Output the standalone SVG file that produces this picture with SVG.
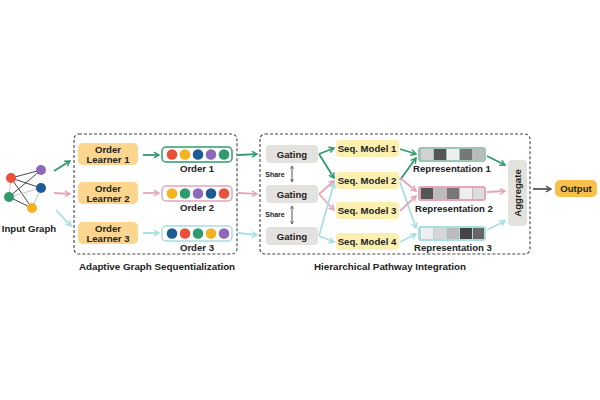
<svg xmlns="http://www.w3.org/2000/svg" width="600" height="400" viewBox="0 0 600 400">
<style>
text{font-family:"Liberation Sans",Arial,sans-serif;font-weight:bold;fill:#222;text-anchor:middle}
.t{font-size:9.6px}.s{font-size:7px}.cap{font-size:9.8px}
.frame{fill:none;stroke:#444;stroke-width:1.1;stroke-dasharray:3 2}
.ol{fill:#fcd68f}.sq{fill:#fbf0b0}.gt{fill:#e4e2de}
.g{stroke:#2e9a6e;fill:none;stroke-width:1.8;marker-end:url(#ag)}
.p{stroke:#e3a6bb;fill:none;stroke-width:1.8;marker-end:url(#ap)}
.c{stroke:#a9dde1;fill:none;stroke-width:1.8;marker-end:url(#ac)}
.e{stroke:#333;stroke-width:0.9}.e2{stroke:#bbb;stroke-width:0.9}
</style>
<defs>
<marker id="ag" viewBox="0 0 10 10" refX="8" refY="5" markerWidth="4" markerHeight="4" orient="auto"><path d="M1,1L8,5L1,9" fill="none" stroke="#2e9a6e" stroke-width="2"/></marker>
<marker id="ap" viewBox="0 0 10 10" refX="8" refY="5" markerWidth="4" markerHeight="4" orient="auto"><path d="M1,1L8,5L1,9" fill="none" stroke="#e3a6bb" stroke-width="2"/></marker>
<marker id="ac" viewBox="0 0 10 10" refX="8" refY="5" markerWidth="4" markerHeight="4" orient="auto"><path d="M1,1L8,5L1,9" fill="none" stroke="#a9dde1" stroke-width="2"/></marker>
<marker id="ak" viewBox="0 0 10 10" refX="8" refY="5" markerWidth="4" markerHeight="4" orient="auto-start-reverse"><path d="M1,1L8,5L1,9" fill="none" stroke="#555" stroke-width="2"/></marker>
</defs>
<rect width="600" height="400" fill="#fff"/>
<g id="input-graph">
<line class="e" x1="11" y1="178" x2="41" y2="170"/><line class="e" x1="11" y1="178" x2="41" y2="188"/><line class="e" x1="11" y1="178" x2="32" y2="208"/>
<line class="e" x1="9" y1="197" x2="41" y2="170"/><line class="e2" x1="9" y1="197" x2="41" y2="188"/><line class="e" x1="9" y1="197" x2="32" y2="208"/>
<line class="e2" x1="11" y1="178" x2="9" y2="197"/><line class="e2" x1="41" y1="188" x2="32" y2="208"/>
<circle cx="11" cy="178" r="5" fill="#e9503c"/><circle cx="41" cy="170" r="5" fill="#8e68b8"/><circle cx="41" cy="188" r="5" fill="#1e5b93"/><circle cx="9" cy="197" r="5" fill="#2e9a6e"/><circle cx="32" cy="208" r="5" fill="#f4b120"/>
<text class="t" x="29" y="232">Input Graph</text>
</g>
<g id="sequentialization">
<rect class="frame" x="74" y="134" width="163" height="120" rx="5"/>
<text class="cap" x="157" y="270">Adaptive Graph Sequentialization</text>
</g>
<g id="learner1"><rect class="ol" x="78" y="143" width="60" height="22" rx="5"/><text class="t" x="108" y="152.5">Order</text><text class="t" x="108" y="162.5">Learner 1</text></g>
<g id="learner2"><rect class="ol" x="78" y="182" width="60" height="22" rx="5"/><text class="t" x="108" y="191.5">Order</text><text class="t" x="108" y="201.5">Learner 2</text></g>
<g id="learner3"><rect class="ol" x="78" y="222" width="60" height="22" rx="5"/><text class="t" x="108" y="231.5">Order</text><text class="t" x="108" y="241.5">Learner 3</text></g>
<g id="order1"><rect x="162" y="147" width="70" height="15" rx="4" fill="#fff" stroke="#2e9a6e" stroke-width="1.5"/>
<circle cx="172" cy="154.5" r="5.3" fill="#e9503c"/><circle cx="185" cy="154.5" r="5.3" fill="#f4b120"/><circle cx="198" cy="154.5" r="5.3" fill="#1e5b93"/><circle cx="211" cy="154.5" r="5.3" fill="#8e68b8"/><circle cx="224" cy="154.5" r="5.3" fill="#2e9a6e"/>
<text class="t" x="197" y="172">Order 1</text></g>
<g id="order2"><rect x="162" y="186" width="70" height="15" rx="4" fill="#fff" stroke="#e3a6bb" stroke-width="1.5"/>
<circle cx="172" cy="193.5" r="5.3" fill="#f4b120"/><circle cx="185" cy="193.5" r="5.3" fill="#2e9a6e"/><circle cx="198" cy="193.5" r="5.3" fill="#8e68b8"/><circle cx="211" cy="193.5" r="5.3" fill="#1e5b93"/><circle cx="224" cy="193.5" r="5.3" fill="#e9503c"/>
<text class="t" x="197" y="211">Order 2</text></g>
<g id="order3"><rect x="162" y="226" width="70" height="15" rx="4" fill="#fff" stroke="#a9dde1" stroke-width="1.5"/>
<circle cx="172" cy="233.5" r="5.3" fill="#1e5b93"/><circle cx="185" cy="233.5" r="5.3" fill="#e9503c"/><circle cx="198" cy="233.5" r="5.3" fill="#2e9a6e"/><circle cx="211" cy="233.5" r="5.3" fill="#f4b120"/><circle cx="224" cy="233.5" r="5.3" fill="#8e68b8"/>
<text class="t" x="197" y="251">Order 3</text></g>
<g id="integration">
<rect class="frame" x="260" y="134" width="270" height="120" rx="5"/>
<text class="cap" x="390" y="270">Hierarchical Pathway Integration</text>
<text class="s" x="275" y="177">Share</text><text class="s" x="275" y="217">Share</text>
</g>
<g id="gating1"><rect class="gt" x="266" y="145" width="52" height="18" rx="4"/><text class="t" x="292" y="157.5">Gating</text></g>
<g id="gating2"><rect class="gt" x="266" y="185" width="52" height="18" rx="4"/><text class="t" x="292" y="197.5">Gating</text></g>
<g id="gating3"><rect class="gt" x="266" y="227" width="52" height="18" rx="4"/><text class="t" x="292" y="239.5">Gating</text></g>
<g id="seq1"><rect class="sq" x="336" y="140" width="63" height="17" rx="4"/><text class="t" x="367" y="152">Seq. Model 1</text></g>
<g id="seq2"><rect class="sq" x="336" y="172" width="63" height="17" rx="4"/><text class="t" x="367" y="184">Seq. Model 2</text></g>
<g id="seq3"><rect class="sq" x="336" y="202" width="63" height="17" rx="4"/><text class="t" x="367" y="214">Seq. Model 3</text></g>
<g id="seq4"><rect class="sq" x="336" y="233" width="63" height="17" rx="4"/><text class="t" x="367" y="245">Seq. Model 4</text></g>
<g id="rep1"><rect x="418" y="147" width="68" height="15" rx="3" fill="#9cc6b3"/>
<rect x="421" y="149" width="12" height="11" fill="#d2d2d2"/><rect x="434" y="149" width="12" height="11" fill="#555"/><rect x="447" y="149" width="12" height="11" fill="#eee"/><rect x="460" y="149" width="12" height="11" fill="#777"/><rect x="473" y="149" width="11" height="11" fill="#bbb"/>
<text class="t" x="452" y="172">Representation 1</text></g>
<g id="rep2"><rect x="418" y="186" width="68" height="15" rx="3" fill="#e3a6bb"/>
<rect x="421" y="188" width="12" height="11" fill="#555"/><rect x="434" y="188" width="12" height="11" fill="#bbb"/><rect x="447" y="188" width="12" height="11" fill="#777"/><rect x="460" y="188" width="12" height="11" fill="#eee"/><rect x="473" y="188" width="11" height="11" fill="#ddd"/>
<text class="t" x="454" y="212">Representation  2</text></g>
<g id="rep3"><rect x="418" y="226" width="68" height="15" rx="3" fill="#a9dde1"/>
<rect x="421" y="228" width="12" height="11" fill="#eee"/><rect x="434" y="228" width="12" height="11" fill="#d6d6d6"/><rect x="447" y="228" width="12" height="11" fill="#bbb"/><rect x="460" y="228" width="12" height="11" fill="#444"/><rect x="473" y="228" width="11" height="11" fill="#666"/>
<text class="t" x="453" y="251">Representation  3</text></g>
<g id="aggregate"><rect class="gt" x="508" y="160" width="19" height="66" rx="4"/><text class="t" transform="translate(521,193) rotate(-90)">Aggregate</text></g>
<g id="output"><rect x="555" y="180" width="42" height="17" rx="5" fill="#f7c04a"/><text class="t" x="576" y="192">Output</text></g>
<g id="connectors">
<path class="g" d="M54,171L70,161"/><path class="p" d="M54,193L70,194"/><path class="c" d="M56,210L71,226"/>
<path class="g" d="M143,155L159,155"/><path class="p" d="M143,193L159,193"/><path class="c" d="M143,233L159,233"/>
<path class="g" d="M238,155L257,154"/><path class="p" d="M238,193L257,194"/><path class="c" d="M238,233L257,235"/>
<line x1="292" y1="166" x2="292" y2="182" stroke="#555" stroke-width="1" marker-start="url(#ak)" marker-end="url(#ak)"/>
<line x1="292" y1="206" x2="292" y2="224" stroke="#555" stroke-width="1" marker-start="url(#ak)" marker-end="url(#ak)"/>
<path class="g" d="M319,154L334,148"/><path class="g" d="M319,154L334,178"/>
<path class="p" d="M319,194L334,181"/><path class="p" d="M319,194L334,210"/>
<path class="c" d="M319,236L334,183"/><path class="c" d="M319,236L334,242"/>
<path class="g" d="M400,149L416,154"/><path class="g" d="M400,180L416,158"/>
<path class="p" d="M400,178L416,191"/><path class="c" d="M400,182L416,228"/>
<path class="p" d="M400,211L416,196"/><path class="c" d="M400,242L416,234"/>
<path class="g" d="M487,156L505,165"/><path class="p" d="M487,192L505,191"/><path class="c" d="M487,230L505,221"/>
<line x1="533" y1="189" x2="551" y2="189" stroke="#555" stroke-width="1.8" marker-end="url(#ak)"/>
</g>
</svg>
